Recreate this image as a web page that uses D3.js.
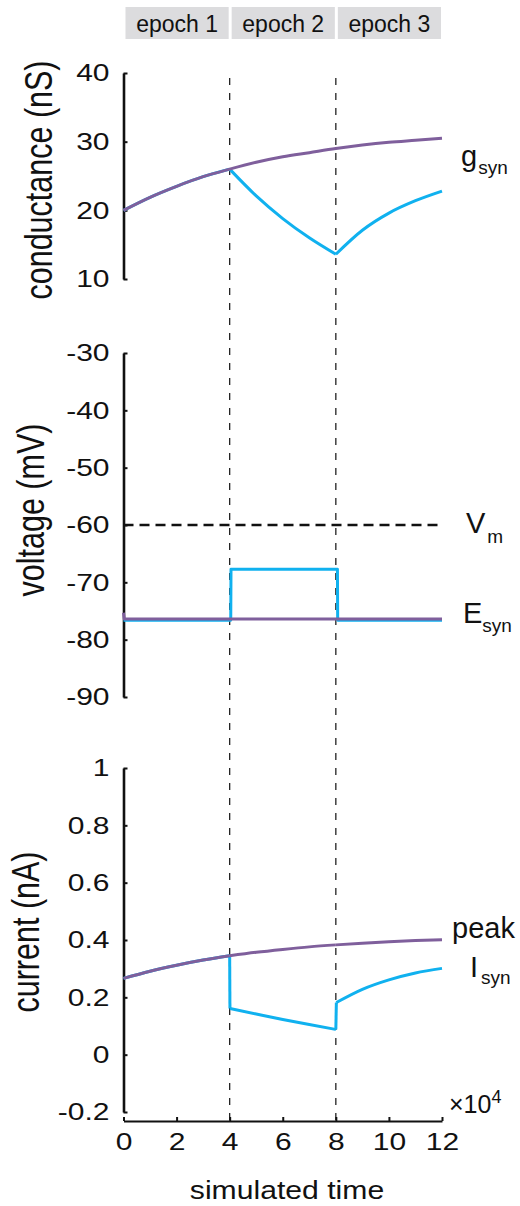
<!DOCTYPE html>
<html>
<head>
<meta charset="utf-8">
<script src="https://cdn.jsdelivr.net/npm/d3@7"></script>
<style>
  body { margin: 0; background: #fff; }
  svg { display: block; }
  text { font-family: "Liberation Sans", Arial, Helvetica, sans-serif; fill: #111; }
</style>
</head>
<body>
<script>
// ---- data -------------------------------------------------------------
const epochs = ["epoch 1", "epoch 2", "epoch 3"];
const epochBounds = [0, 4, 8, 12];            // simulated time (x10^4)
const xTicks = [0, 2, 4, 6, 8, 10, 12];

// conductance (nS)
const gTime  = [0, 1, 2, 3, 4, 5, 6, 7, 8, 9, 10, 11, 12];
const gPeak  = [20, 21.9, 23.5, 24.9, 26.0, 27.0, 27.8, 28.4, 29.0, 29.5, 29.9, 30.2, 30.5];
const gSyn   = [20, 21.9, 23.5, 24.9, 26.0, 22.1, 18.8, 16.0, 13.6, 17.1, 19.6, 21.4, 22.8];
const gTicks = [10, 20, 30, 40];

// voltage (mV)
const vmLevel  = -60;
const eSynTime = [0, 0.03, 12];
const eSynV    = [-75.3, -76.4, -76.4];
const vSynTime = [0, 4.04, 4.05, 8.06, 8.07, 12];
const vSynV    = [-76.6, -76.6, -67.7, -67.7, -76.6, -76.6];
const vTicks   = [-90, -80, -70, -60, -50, -40, -30];

// current (nA)
const iPeakTime = [0, 1, 2, 3, 4, 5, 6, 7, 8, 9, 10, 11, 12];
const iPeak     = [0.266, 0.291, 0.312, 0.330, 0.345, 0.357, 0.367, 0.376, 0.383, 0.389, 0.394, 0.398, 0.401];
const iSynTime  = [0, 1, 2, 3, 4, 4.01, 5, 6, 7, 8, 8.02, 9, 10, 11, 12];
const iSyn      = [0.266, 0.291, 0.312, 0.330, 0.345, 0.161, 0.142, 0.123, 0.105, 0.088, 0.182, 0.228, 0.261, 0.285, 0.301];
const iSynBreaks = [4, 5, 9, 10];
const iTicks    = [-0.2, 0, 0.2, 0.4, 0.6, 0.8, 1];

// ---- layout -----------------------------------------------------------
const W = 520, H = 1206;
const BLUE = "#10b1ef", PURPLE = "#7f5f9c";
const S = 1.25;   // horizontal glyph stretch of the plot lettering

const svg = d3.select("body").append("svg").attr("width", W).attr("height", H);

const x = d3.scaleLinear().domain([0, 12]).range([123.5, 442]);
const yG = d3.scaleLinear().domain([10, 40]).range([279, 73]);
const yV = d3.scaleLinear().domain([-90, -30]).range([697, 353]);
const yI = d3.scaleLinear().domain([-0.2, 1]).range([1112, 768]);
const xAxisY = 1121;

// plain hyphen-minus tick text
const plain = d => String(d);

// epoch header boxes
const hdr = svg.append("g");
epochs.forEach((name, i) => {
  const x0 = x(epochBounds[i]) + 2, x1 = x(epochBounds[i + 1]) + 1;
  hdr.append("rect").attr("x", x0).attr("y", 7).attr("width", x1 - x0 - 2).attr("height", 32)
     .attr("fill", "#dcdcde");
  hdr.append("text").attr("x", (x0 + x1 - 2) / 2).attr("y", 31.5)
     .attr("text-anchor", "middle").style("font-size", "23px").text(name);
});

// vertical epoch boundaries
svg.append("g").selectAll("line").data(epochBounds.slice(1, 3)).join("line")
  .attr("x1", d => x(d)).attr("x2", d => x(d))
  .attr("y1", 78).attr("y2", xAxisY)
  .attr("stroke", "#222").attr("stroke-width", 1.3).attr("stroke-dasharray", "7,8");

// helpers
function leftAxis(scale, ticks) {
  const g = svg.append("g").attr("transform", `translate(${x(0)},0)`)
    .call(d3.axisLeft(scale).tickValues(ticks).tickFormat(plain)
      .tickSizeInner(-4).tickSizeOuter(0).tickPadding(13));
  g.select(".domain").attr("stroke", "#111").attr("stroke-width", 2.6);
  g.selectAll(".tick line").attr("stroke", "#111").attr("stroke-width", 2);
  g.selectAll(".tick text")
    .attr("x", -14 / S)
    .attr("transform", `scale(${S},1)`)
    .style("font-size", "24px")
    .attr("fill", "#111");
  return g;
}
function yLabel(txt, xb, yc) {
  svg.append("text")
    .attr("transform", `translate(${xb},${yc}) scale(${S},1) rotate(-90)`)
    .attr("text-anchor", "middle").style("font-size", "30.5px").text(txt);
}
function subLabel(main, sub, xl, yb, ys, subDx) {
  const t = svg.append("text").attr("x", xl).attr("y", yb).style("font-size", "29px");
  t.append("tspan").text(main);
  t.append("tspan").attr("dx", subDx).attr("y", ys).style("font-size", "19px").text(sub);
}
function segments(ts, vs, breaks) {
  const cut = [0, ...breaks, ts.length - 1];
  return d3.pairs(cut).map(([a, b]) => d3.range(a, b + 1).map(i => [ts[i], vs[i]]));
}
function trace(scaleY, ts, vs, breaks, color, curve) {
  const line = d3.line().x(d => x(d[0])).y(d => scaleY(d[1])).curve(curve);
  svg.append("g").selectAll("path").data(segments(ts, vs, breaks)).join("path")
    .attr("d", line).attr("fill", "none").attr("stroke", color)
    .attr("stroke-width", 3).attr("stroke-linejoin", "round").attr("stroke-linecap", "butt");
}

// ---- conductance panel ----
leftAxis(yG, gTicks);
yLabel("conductance (nS)", 52, 180);
trace(yG, gTime, gSyn, [4, 8], BLUE, d3.curveMonotoneX);
trace(yG, gTime, gPeak, [], PURPLE, d3.curveMonotoneX);
subLabel("g", "syn", 461, 166, 174, 1);

// ---- voltage panel ----
leftAxis(yV, vTicks);
yLabel("voltage (mV)", 44, 510);
svg.append("line").attr("x1", x(0)).attr("x2", x(12))
  .attr("y1", yV(vmLevel)).attr("y2", yV(vmLevel))
  .attr("stroke", "#111").attr("stroke-width", 2.6).attr("stroke-dasharray", "10,6");
trace(yV, vSynTime, vSynV, [], BLUE, d3.curveLinear);
trace(yV, eSynTime, eSynV, [], PURPLE, d3.curveLinear);
subLabel("V", "m", 466, 533, 543, 2);
subLabel("E", "syn", 463, 623, 632, 0);

// ---- current panel ----
leftAxis(yI, iTicks);
yLabel("current (nA)", 39, 932);
trace(yI, iSynTime, iSyn, iSynBreaks, BLUE, d3.curveMonotoneX);
trace(yI, iPeakTime, iPeak, [4, 8], PURPLE, d3.curveMonotoneX);
svg.append("text").attr("x", 452).attr("y", 938).style("font-size", "29px").text("peak");
subLabel("I", "syn", 470, 977, 984, 3);

// ---- time axis ----
const gx = svg.append("g").attr("transform", `translate(0,${xAxisY})`)
  .call(d3.axisBottom(x).tickValues(xTicks).tickFormat(plain)
    .tickSizeInner(-4).tickSizeOuter(0).tickPadding(12));
gx.select(".domain").attr("stroke", "#111").attr("stroke-width", 2.2);
gx.selectAll(".tick line").attr("stroke", "#111").attr("stroke-width", 2);
gx.selectAll(".tick text").attr("transform", `scale(${S},1)`)
  .style("font-size", "24px").attr("fill", "#111");

const exp = svg.append("text").attr("x", 449).attr("y", 1113).style("font-size", "25px");
exp.append("tspan").text("×10");
exp.append("tspan").attr("dy", -10).style("font-size", "18px").text("4");

svg.append("text").attr("transform", `translate(287,1199) scale(1.16,1)`)
  .attr("text-anchor", "middle").style("font-size", "26px").text("simulated time");
</script>
</body>
</html>
